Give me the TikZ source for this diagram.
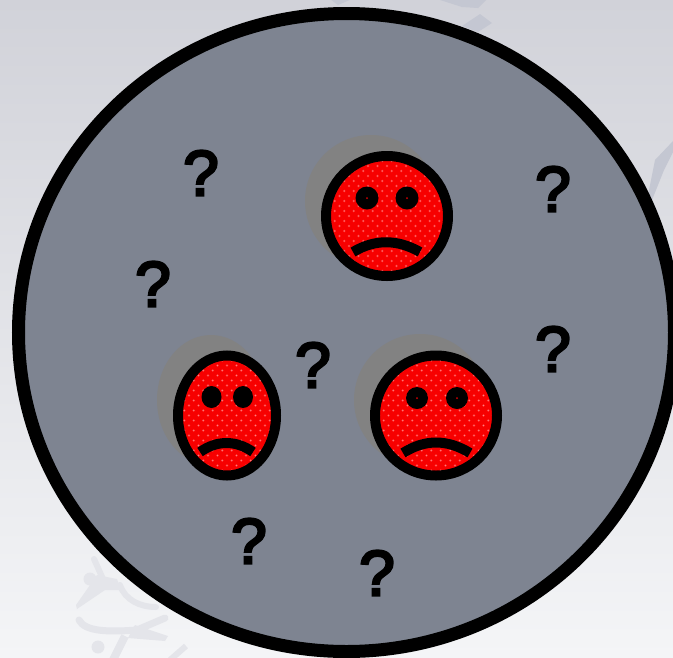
\documentclass[tikz,border=0pt]{standalone}
\usepackage{fontspec}
\setmainfont{Liberation Sans}
\newfontfamily\qfont[FakeBold=4]{Liberation Sans}
\begin{document}
\begin{tikzpicture}[x=1pt,y=-1pt,
  qmark/.style={inner sep=0pt,font=\qfont\fontsize{64}{64}\selectfont,text=black},
  faint/.style={line width=7pt,line cap=round,line join=round},
  mouth/.style={line width=10pt,draw=black},
  outlinewd/.style={line width=10pt,draw=black}]
\useasboundingbox (0,0) rectangle (673,657);
\shade[top color={rgb,255:red,209;green,210;blue,217},bottom color={rgb,255:red,244;green,245;blue,247}] (0,0) rectangle (673,657);
% faint background figures
\definecolor{figtop}{RGB}{196,199,210}
\definecolor{figbot}{RGB}{228,229,234}
\begin{scope}
\clip (0,0) rectangle (673,657);
\fill[figtop] (330,-1) -- (352,-1) -- (338,5) -- cycle;
\fill[figtop] (437,-1) -- (487,-1) -- (478,8) -- (462,7) -- cycle;
\fill[figtop] (462,26) -- (480,14) -- (492,23) -- (478,32) -- cycle;
\fill[figtop] (674,140) -- (674,150) -- (664,170) -- (652,200) -- (648,195) -- (655,160) -- cycle;
% lower left figures
\draw[faint,figbot,line width=6pt] (94,559) -- (103,579);
\fill[figbot] (90,579) circle (6.5);
\fill[figbot] (97,575) -- (117,579) -- (121,590) -- (105,590) -- (77,609) -- (76,605) -- cycle;
\draw[figbot,line width=6pt,line cap=round] (120,585) .. controls (125,600) and (140,607) .. (156,607);
\draw[figbot,line width=7pt,line cap=round] (79,620) .. controls (85,632) and (110,632) .. (137,630) -- (165,618);
\fill[figbot] (135,625) -- (168,636) -- (165,641) -- (128,638) -- cycle;
\fill[figbot] (98,647) circle (6.5);
\draw[figbot,line width=8pt] (125,636) -- (113,660);
\draw[figbot,line width=6pt] (186,646) -- (170,660);
\end{scope}
% main disc
\draw[line width=13pt,draw=black,fill={rgb,255:red,126;green,132;blue,145}] (346.5,332.5) ellipse [x radius=328,y radius=319];
% shadows
\fill[gray!98] (371,201) circle (66);
\fill[gray!98] (211,400) ellipse [x radius=54,y radius=65];
\fill[gray!98] (420,400) circle (66);
% face fills with dot texture
\foreach \cx/\cy/\rx/\ry in {387/216/61/60,227/415.5/49/60,436/415.5/61/60}{
  \begin{scope}
  \clip (\cx,\cy) ellipse [x radius=\rx,y radius=\ry];
  \fill[red!97!black] (\cx-70,\cy-70) rectangle (\cx+70,\cy+70);
  \foreach \i in {-8,...,8}{
    \foreach \j in {-13,...,13}{
      \fill[red!80!white] ({\cx+\i*9.5+mod(abs(\j),2)*4.75},{\cy+\j*5}) circle (1.4);
      \fill[red!50!white] ({\cx+\i*9.5+mod(abs(\j),2)*4.75},{\cy+\j*5}) circle (.7);
    }
  }
  \end{scope}
  \draw[outlinewd] (\cx,\cy) ellipse [x radius=\rx,y radius=\ry];
}
% eyes
\fill[black] (367,198) circle (11.5);
\fill[black] (407,198) circle (11.5);
\fill[red!85!black] (367,198) circle (1);
\fill[red!85!black] (407,198) circle (1);
\fill[black] (211.5,397) ellipse [x radius=10,y radius=11];
\fill[black] (243,397) ellipse [x radius=10,y radius=11];
\fill[black] (417,398) circle (11);
\fill[black] (457,398) circle (11);
\fill[red!85!black] (417,398) circle (1);
\fill[red!85!black] (457,398) circle (1);
% mouths
\draw[mouth] (353,252) .. controls (375,239) and (397,239) .. (420,252);
\draw[mouth] (200,452) .. controls (217,440) and (236,440) .. (253,452);
\draw[mouth] (403,453) .. controls (425,439) and (447,439) .. (470,453);
% question marks
\node[qmark] (q1) at (201,173) {?};
\node[qmark] (q2) at (553,189) {?};
\node[qmark] (q3) at (153,284) {?};
\node[qmark] (q4) at (553,349) {?};
\node[qmark] (q5) at (313,365) {?};
\node[qmark] (q6) at (249,541) {?};
\node[qmark] (q7) at (377,573) {?};
\end{tikzpicture}
\end{document}
